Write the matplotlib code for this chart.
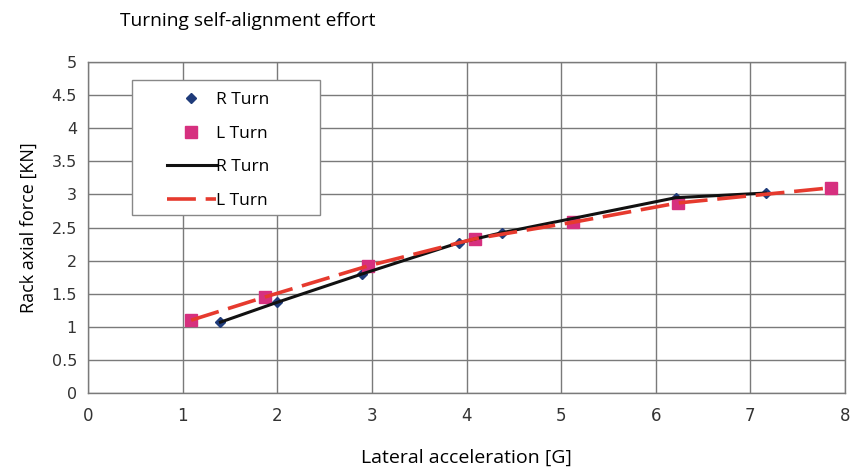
import numpy as np
import matplotlib.pyplot as plt
from matplotlib.lines import Line2D
from matplotlib.patches import Rectangle

# Rack axial force measured against lateral acceleration
r_accel = [1.40, 2.00, 2.90, 3.92, 4.37, 6.21, 7.16]
r_force = [1.07, 1.37, 1.80, 2.27, 2.42, 2.95, 3.02]

l_accel = [1.09, 1.87, 2.96, 4.09, 5.13, 6.23, 7.85]
l_force = [1.10, 1.45, 1.92, 2.33, 2.58, 2.87, 3.10]

x_ticks = [0, 1, 2, 3, 4, 5, 6, 7, 8]
y_ticks = [0, 0.5, 1, 1.5, 2, 2.5, 3, 3.5, 4, 4.5, 5]

navy = "#1f3b7a"
pink = "#d6307f"
red = "#e63a2e"
grid_c = "#7a7a7a"

W, H = 858, 471
fig = plt.figure(figsize=(W / 100, H / 100), dpi=100)
ax = fig.add_axes([88 / W, 1 - 393 / H, 757 / W, 331 / H])

ax.set_xlim(0, 8)
ax.set_ylim(0, 5)
ax.set_xticks(x_ticks)
ax.set_yticks(y_ticks)
ax.set_xticklabels([str(v) for v in x_ticks])
ax.set_yticklabels([f"{v:g}" for v in y_ticks])
ax.grid(True, color=grid_c, lw=1.0)
ax.set_axisbelow(True)
for s in ax.spines.values():
    s.set_color(grid_c)
    s.set_linewidth(1.0)
ax.tick_params(length=0, labelcolor="#333333", pad=8)
ax.tick_params(axis="y", labelsize=11.5)
ax.tick_params(axis="x", labelsize=12, pad=10)

# points first, lines drawn over them
ax.plot(r_accel, r_force, ls="none", marker="D", ms=5, color=navy, zorder=3)
ax.plot(l_accel, l_force, ls="none", marker="s", ms=8, color=pink, zorder=3)
ax.plot(r_accel, r_force, color="#111111", lw=2.2, zorder=4)
ax.plot(l_accel, l_force, color=red, lw=2.6, dashes=(8, 2.7), zorder=5)

# legend box, drawn separately so the padding can be set per side
def ax_x(px):
    return (px - 88) / 757

def ax_y(py):
    return (393 - py) / 331

box = Rectangle((ax_x(132), ax_y(215)), ax_x(320) - ax_x(132), ax_y(80) - ax_y(215),
                transform=ax.transAxes, facecolor="white", edgecolor="#888888",
                lw=1.0, zorder=6)
ax.add_patch(box)

handles = [
    Line2D([], [], ls="none", marker="D", ms=5, color=navy),
    Line2D([], [], ls="none", marker="s", ms=8, color=pink),
    Line2D([], [], color="#111111", lw=2.2),
    Line2D([], [], color=red, lw=2.6, dashes=(8, 2.7)),
]
leg = ax.legend(handles, ["R Turn", "L Turn", "R Turn", "L Turn"],
                loc="upper left", bbox_to_anchor=(ax_x(167), ax_y(92)),
                labelspacing=1.0, handlelength=2.8, handletextpad=0.05,
                borderpad=0, borderaxespad=0, frameon=False,
                prop={"family": "Open Sans", "size": 12.5})
leg.set_zorder(7)

ax.set_ylabel("Rack axial force [KN]", fontsize=13, family="Open Sans", labelpad=10)
ax.set_xlabel("Lateral acceleration [G]", fontsize=14, family="Open Sans", labelpad=17)
fig.text(120 / W, 1 - 21 / H, "Turning self-alignment effort",
         fontsize=13.8, family="Open Sans", va="center", ha="left")

fig.savefig("out.png", dpi=100)
